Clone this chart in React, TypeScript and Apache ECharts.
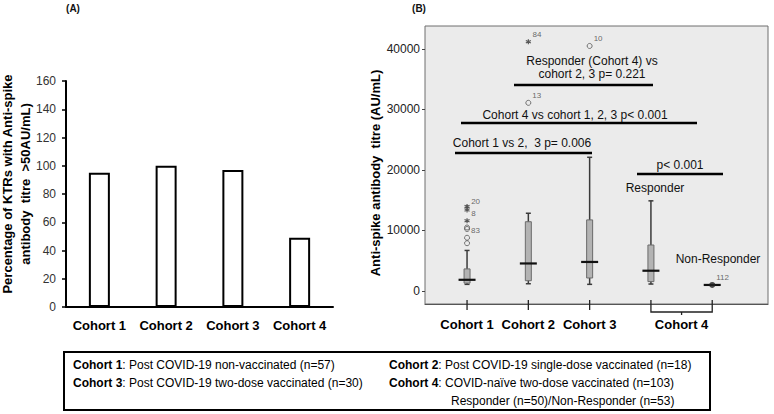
import { useEffect, useRef } from "react";
import * as echarts from "echarts";

const FONT = '"Liberation Sans", Arial, sans-serif';

// Panel A
const pctCategories = ["Cohort 1", "Cohort 2", "Cohort 3", "Cohort 4"];
const pctValues = [95, 100, 97, 49];

// Panel B box plots (x position, whiskers, quartiles, median)
const boxLabels = ["Cohort 1", "Cohort 2", "Cohort 3", "Cohort 4"];
const boxX = [1, 2, 3, 4, 5];
const boxLow = [1100, 1200, 1100, 1150, 1000];
const boxQ1 = [1300, 1700, 2150, 1550, 1000];
const boxMedian = [1850, 4550, 4800, 3350, 1000];
const boxQ3 = [3650, 11450, 11750, 7600, 1000];
const boxHigh = [6700, 12850, 22100, 14900, 1000];

// outliers (circles) and extremes (asterisks)
const outlierX = [1, 1, 1, 1, 2, 3];
const outlierY = [10500, 10250, 8800, 7900, 31100, 40500];
const outlierLabel = ["83", "", "", "", "13", "10"];
const outlierLabelDy = [3.5, 0, 0, 0, -7, -7];

const extremeX = [1, 1, 1, 2];
const extremeY = [13950, 13400, 11600, 41200];
const extremeLabel = ["20", "8", "", "84"];
const extremeLabelDy = [-5.5, 4, 0, -7];

const nonRespX = [5];
const nonRespY = [1000];
const nonRespLabel = ["112"];

const yMinB = -2150;
const yMaxB = 43800;
const yTicksB = [0, 10000, 20000, 30000, 40000];
const xTicksB = [1, 2, 3];

function pointData(xs: number[], ys: number[], labels: string[], dys: number[]) {
  return xs.map((x, i) => ({
    value: [x, ys[i]],
    label: {
      show: labels[i] !== "",
      formatter: labels[i],
      position: "right",
      distance: 1,
      offset: [0, dys[i]],
      fontSize: 8,
      color: "#444",
      fontFamily: FONT,
    },
  }));
}

export default function App() {
  const ref = useRef<HTMLDivElement>(null);
  useEffect(() => {
    if (!ref.current) return;
    const chart = echarts.init(ref.current, null, { renderer: "svg" });
    const textStyle = (x: number, y: number, text: string, extra: any = {}) => ({
      type: "text",
      x,
      y,
      style: {
        text,
        fontFamily: FONT,
        fontSize: 12,
        fill: "#111",
        align: "center",
        verticalAlign: "middle",
        ...extra,
      },
    });
    const hLine = (x1: number, x2: number, y: number) => ({
      type: "line",
      shape: { x1, y1: y, x2, y2: y },
      style: { stroke: "#000", lineWidth: 2.5 },
    });
    const legendText = (x: number, y: number, head: string, body: string) => ({
      type: "text",
      x,
      y,
      style: {
        text: (head ? "{b|" + head + "}" : "") + "{n|" + body + "}",
        rich: {
          b: { fontWeight: "bold", fontSize: 12, fontFamily: FONT, fill: "#000" },
          n: { fontSize: 12, fontFamily: FONT, fill: "#000" },
        },
        verticalAlign: "middle",
        align: "left",
      },
    });
    const pointLabel = { color: "#444", fontSize: 8, fontFamily: FONT };

    const option: any = {
      animation: false,
      textStyle: { fontFamily: FONT },
      grid: [
        { left: 66, top: 81, width: 267, height: 226 },
        {
          left: 425,
          top: 26,
          width: 343,
          height: 278,
          show: true,
          backgroundColor: "#ebebeb",
          borderColor: "#6e6e6e",
          borderWidth: 1,
        },
      ],
      xAxis: [
        {
          gridIndex: 0,
          type: "category",
          data: pctCategories,
          axisLine: { lineStyle: { color: "#000", width: 2 } },
          axisTick: { show: false },
          axisLabel: { interval: 0, fontFamily: FONT, fontWeight: "bold", fontSize: 13, color: "#000", margin: 12 },
        },
        {
          gridIndex: 1,
          type: "value",
          min: 0.314,
          max: 5.91,
          axisLine: { show: true, onZero: false, lineStyle: { color: "#555", width: 1.2 } },
          splitLine: { show: false },
          axisTick: { show: false },
          axisLabel: {
            customValues: [1, 2, 3, 4.5],
            formatter: (v: number) => boxLabels[Math.min(3, Math.floor(v) - 1)],
            fontFamily: FONT,
            fontWeight: "bold",
            fontSize: 13,
            color: "#000",
            margin: 14,
          },
        },
      ],
      yAxis: [
        {
          gridIndex: 0,
          type: "value",
          min: 0,
          max: 160,
          interval: 20,
          axisLine: { show: true, lineStyle: { color: "#000", width: 2 } },
          axisTick: { show: true, length: 4, lineStyle: { color: "#000", width: 1.5 } },
          splitLine: { show: false },
          axisLabel: { fontFamily: FONT, fontSize: 12, color: "#333", margin: 10 },
        },
        {
          gridIndex: 1,
          type: "value",
          min: yMinB,
          max: yMaxB,
          axisLine: { show: false, onZero: false },
          splitLine: { show: false },
          axisTick: { show: true, customValues: yTicksB, length: 3, lineStyle: { color: "#444" } },
          axisLabel: {
            customValues: yTicksB,
            formatter: (v: number) => String(v),
            fontFamily: FONT,
            fontSize: 12,
            color: "#222",
            margin: 5,
          },
        },
      ],
      series: [
        {
          type: "bar",
          xAxisIndex: 0,
          yAxisIndex: 0,
          data: pctValues,
          barWidth: 21,
          itemStyle: { color: "#fff", borderColor: "#000", borderWidth: 2 },
        },
        {
          type: "custom",
          xAxisIndex: 1,
          yAxisIndex: 1,
          data: boxX.map((x, i) => [x, boxLow[i], boxQ1[i], boxMedian[i], boxQ3[i], boxHigh[i]]),
          renderItem: (_p: any, api: any) => {
            const x = api.value(0);
            const lo = api.coord([x, api.value(1)]);
            const q1 = api.coord([x, api.value(2)]);
            const md = api.coord([x, api.value(3)]);
            const q3 = api.coord([x, api.value(4)]);
            const hi = api.coord([x, api.value(5)]);
            const cx = lo[0];
            const ws = { stroke: "#3a3a3a", lineWidth: 1.5 };
            return {
              type: "group",
              children: [
                { type: "line", shape: { x1: cx, y1: hi[1], x2: cx, y2: lo[1] }, style: ws },
                { type: "line", shape: { x1: cx - 2.5, y1: hi[1], x2: cx + 2.5, y2: hi[1] }, style: ws },
                { type: "line", shape: { x1: cx - 2.5, y1: lo[1], x2: cx + 2.5, y2: lo[1] }, style: ws },
                {
                  type: "rect",
                  shape: { x: cx - 3, y: q3[1], width: 6, height: q1[1] - q3[1] },
                  style: { fill: "#b3b3b3", stroke: "#6b6b6b", lineWidth: 1 },
                },
                {
                  type: "line",
                  shape: { x1: cx - 8.5, y1: md[1], x2: cx + 8.5, y2: md[1] },
                  style: { stroke: "#111", lineWidth: 2.2 },
                },
              ],
            };
          },
        },
        {
          type: "scatter",
          xAxisIndex: 1,
          yAxisIndex: 1,
          symbol: "circle",
          symbolSize: 5,
          label: pointLabel,
          itemStyle: { color: "rgba(0,0,0,0)", borderColor: "#555", borderWidth: 1 },
          data: pointData(outlierX, outlierY, outlierLabel, outlierLabelDy),
        },
        {
          type: "scatter",
          xAxisIndex: 1,
          yAxisIndex: 1,
          symbol: "path://M5,0L5,10M0.7,2.5L9.3,7.5M0.7,7.5L9.3,2.5",
          symbolSize: 5,
          label: pointLabel,
          itemStyle: { color: "rgba(0,0,0,0)", borderColor: "#333", borderWidth: 1.2 },
          data: pointData(extremeX, extremeY, extremeLabel, extremeLabelDy),
        },
        {
          type: "scatter",
          xAxisIndex: 1,
          yAxisIndex: 1,
          symbol: "circle",
          symbolSize: 6,
          label: pointLabel,
          itemStyle: { color: "#222" },
          data: pointData(nonRespX, nonRespY, nonRespLabel, [-7]),
          z: 5,
        },
        {
          // category ticks and Cohort 4 bracket (Responder / Non-Responder)
          type: "custom",
          xAxisIndex: 1,
          yAxisIndex: 1,
          clip: false,
          z: 10,
          data: [[4, 5, yMinB]],
          renderItem: (_p: any, api: any) => {
            const a = api.coord([api.value(0), api.value(2)]);
            const b = api.coord([api.value(1), api.value(2)]);
            const y0 = a[1];
            const y1 = y0 + 8;
            const mid = (a[0] + b[0]) / 2;
            const st = { stroke: "#222", lineWidth: 1.3 };
            const ticks = xTicksB.map((t) => {
              const p = api.coord([t, api.value(2)]);
              return {
                type: "line",
                shape: { x1: p[0], y1: p[1] - 4, x2: p[0], y2: p[1] + 6 },
                style: st,
              };
            });
            return {
              type: "group",
              children: [
                ...ticks,
                {
                  type: "polyline",
                  shape: { points: [[a[0], y0 - 4], [a[0], y1], [b[0], y1], [b[0], y0 - 4]] },
                  style: { ...st, fill: "none" },
                },
                {
                  type: "line",
                  shape: { x1: mid, y1: y1, x2: mid, y2: y1 + 3 },
                  style: st,
                },
              ],
            };
          },
        },
      ],
      graphic: [
        textStyle(73, 8, "(A)", { fontWeight: "bold", fontSize: 10 }),
        textStyle(419, 8, "(B)", { fontWeight: "bold", fontSize: 10 }),
        {
          type: "text",
          x: 16,
          y: 184,
          rotation: Math.PI / 2,
          style: {
            text: "Percentage of KTRs with Anti-spike\nantibody  titre  >50AU/mL)",
            fontFamily: FONT,
            fontSize: 13,
            fontWeight: "bold",
            lineHeight: 18,
            fill: "#000",
            align: "center",
            verticalAlign: "middle",
          },
        },
        {
          type: "text",
          x: 375,
          y: 173,
          rotation: Math.PI / 2,
          style: {
            text: "Anti-spike antibody  titre (AU/mL)",
            fontFamily: FONT,
            fontSize: 13,
            fontWeight: "bold",
            fill: "#000",
            align: "center",
            verticalAlign: "middle",
          },
        },
        textStyle(592, 67, "Responder (Cohort 4) vs\ncohort 2, 3 p= 0.221", { lineHeight: 13 }),
        hLine(514, 653, 85),
        textStyle(575, 115, "Cohort 4 vs cohort 1, 2, 3 p< 0.001"),
        hLine(461, 697, 123),
        textStyle(522, 143, "Cohort 1 vs 2,  3 p= 0.006"),
        hLine(455, 592, 153),
        textStyle(680, 165, "p< 0.001"),
        hLine(637, 723, 174),
        textStyle(655, 188, "Responder"),
        textStyle(718, 259, "Non-Responder"),
        {
          type: "rect",
          shape: { x: 64, y: 352, width: 646, height: 58 },
          style: { fill: "none", stroke: "#000", lineWidth: 2 },
        },
        legendText(73, 365, "Cohort 1", ": Post COVID-19 non-vaccinated (n=57)"),
        legendText(73, 383, "Cohort 3", ": Post COVID-19 two-dose vaccinated (n=30)"),
        legendText(389, 365, "Cohort 2", ": Post COVID-19 single-dose vaccinated (n=18)"),
        legendText(389, 383, "Cohort 4", ": COVID-naïve two-dose vaccinated (n=103)"),
        legendText(451, 401, "", "Responder (n=50)/Non-Responder (n=53)"),
      ],
    };
    chart.setOption(option);
    return () => chart.dispose();
  }, []);
  return (
    <div
      ref={ref}
      style={{ position: "absolute", left: 0, top: 0, width: 774, height: 414, background: "#fff" }}
    />
  );
}
